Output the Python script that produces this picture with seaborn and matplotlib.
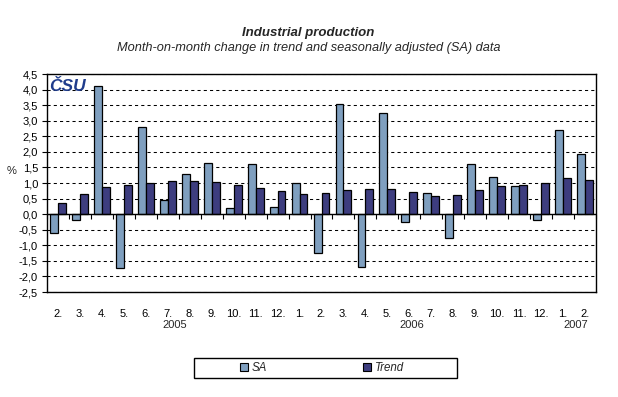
import numpy as np
import pandas as pd
import matplotlib
matplotlib.use("Agg")
import matplotlib.pyplot as plt
from matplotlib.patches import Patch, Rectangle
from matplotlib.ticker import FuncFormatter, MultipleLocator, FixedLocator
import matplotlib.transforms as mtransforms
import seaborn as sns

# ---- data ----
months = ["2.", "3.", "4.", "5.", "6.", "7.", "8.", "9.", "10.", "11.", "12.",
          "1.", "2.", "3.", "4.", "5.", "6.", "7.", "8.", "9.", "10.", "11.", "12.",
          "1.", "2."]
years = ["2005", "2006", "2007"]
year_pos = [5.3, 16.1, 23.6]
sa = [-0.61, -0.19, 4.10, -1.74, 2.81, 0.45, 1.29, 1.65, 0.19, 1.61, 0.24, 1.00,
      -1.26, 3.55, -1.69, 3.26, -0.26, 0.68, -0.77, 1.61, 1.19, 0.90, -0.19, 2.71, 1.94]
trend = [0.35, 0.65, 0.87, 0.94, 1.00, 1.06, 1.06, 1.03, 0.94, 0.84, 0.74, 0.65,
         0.68, 0.77, 0.81, 0.81, 0.71, 0.58, 0.61, 0.77, 0.90, 0.94, 1.00, 1.16, 1.10]
series_names = ["SA", "Trend"]
colors = ["#7f9fbf", "#3d3d7f"]

keys = [f"k{i:02d}" for i in range(len(months))]
df = pd.DataFrame({
    "key": keys * 2,
    "value": sa + trend,
    "series": [series_names[0]] * len(sa) + [series_names[1]] * len(trend),
})

sns.set_theme(style="white")
plt.rcParams["font.family"] = ["Liberation Sans", "DejaVu Sans"]

fig = plt.figure(figsize=(6.18, 3.97), dpi=100)
ax = fig.add_axes([47 / 618, 1 - 292 / 397, 549 / 618, 218 / 397])

sns.barplot(data=df, x="key", y="value", hue="series", order=keys,
            hue_order=series_names, palette=colors, width=0.72, gap=0,
            edgecolor="black", linewidth=0.9, saturation=1, legend=False, ax=ax)

ax.set_ylim(-2.5, 4.5)
ax.set_xlim(-0.5, len(months) - 0.5)
ax.yaxis.set_major_locator(MultipleLocator(0.5))
ax.yaxis.set_major_formatter(FuncFormatter(lambda v, p: f"{v:.1f}".replace(".", ",")))
ax.set_xlabel("")
ax.set_ylabel("")
ax.set_xticks(range(len(months)))
ax.set_xticklabels(months)
ax.tick_params(axis="x", length=0, pad=12, labelsize=8, colors="black")
ax.tick_params(axis="y", left=True, length=3.5, width=0.8, pad=3, labelsize=8,
               colors="black", direction="out")
ax.yaxis.grid(True, color="black", linestyle=(0, (3, 3)), linewidth=0.75)
ax.set_axisbelow(True)
for s in ax.spines.values():
    s.set_visible(True)
    s.set_color("black")
    s.set_linewidth(1.0)

# zero axis line with category-boundary ticks
ax.axhline(0, color="black", linewidth=1.0, zorder=5)
sec = ax.secondary_xaxis((0 - (-2.5)) / 7.0)
sec.xaxis.set_major_locator(FixedLocator(np.arange(-0.5, len(months), 1.0)))
sec.tick_params(axis="x", length=3.5, width=0.8, direction="out", labelbottom=False,
                labeltop=False, colors="black")
sec.spines["bottom"].set_visible(False)

# year labels
trans = mtransforms.blended_transform_factory(ax.transData, ax.transAxes)
for yp, yl in zip(year_pos, years):
    ax.text(yp, -0.152, yl, transform=trans, ha="center", va="center", fontsize=8)

# logo
ax.text(0.004, 0.975, "ČSU", transform=ax.transAxes, ha="left", va="top",
        fontsize=12.5, fontweight="bold", fontstyle="italic", color="#1f3c8c", zorder=6)

# % label
fig.text(12 / 618, 1 - 171 / 397, "%", ha="center", va="center", fontsize=8)

# titles
fig.text(308 / 618, 1 - 33 / 397, "Industrial production", ha="center", va="center",
         fontsize=9.5, fontweight="bold", fontstyle="italic")
fig.text(309 / 618, 1 - 48 / 397,
         "Month-on-month change in trend and seasonally adjusted (SA) data",
         ha="center", va="center", fontsize=9.2, fontstyle="italic")

# legend
handles = [Patch(facecolor=c, edgecolor="black", linewidth=0.8) for c in colors]
leg = fig.legend(handles, series_names, loc="center", ncol=2,
                 bbox_to_anchor=(322 / 618, 1 - 368 / 397), frameon=False,
                 prop={"size": 8.3, "style": "italic"}, handlelength=0.7,
                 handleheight=0.7, handletextpad=0.35, columnspacing=8.3)
fig.patches.append(Rectangle((194 / 618, 1 - 378 / 397), 263 / 618, 20 / 397,
                             transform=fig.transFigure, fill=False,
                             edgecolor="black", linewidth=1.0))

fig.savefig("out.png", dpi=100)
